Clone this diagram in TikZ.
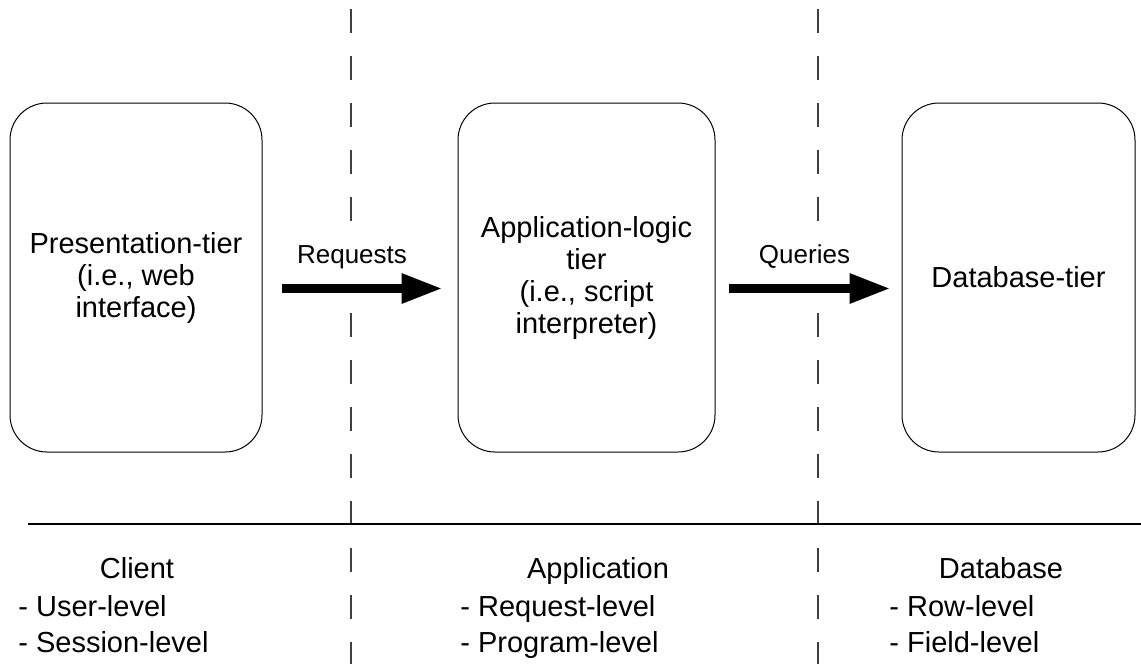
\documentclass[tikz,border=0pt]{standalone}
\usepackage{fontspec}
\setmainfont{Liberation Sans}
\usetikzlibrary{arrows.meta}

\begin{document}
\begin{tikzpicture}[x=0.5pt, y=-0.5pt,
    tier/.style={draw, line width=0.5pt, rounded corners=18.5pt, minimum height=174.5pt, align=center, font=\fontsize{14.5}{16}\selectfont},
    flow/.style={line width=4.5pt, -{Triangle[length=20.5pt, width=14pt]}},
    flowlabel/.style={anchor=base, font=\fontsize{13}{15}\selectfont},
    split/.style={dash pattern=on 12pt off 11.5pt, line width=0.6pt, black!75},
    level/.style={anchor=base west, inner sep=0pt, font=\fontsize{14.5}{17}\selectfont}]
    \useasboundingbox (0,0) rectangle (1141,664);
    % tiers
    \node[tier, minimum width=126pt] (pres) at (136,277.5) {Presentation-tier\\(i.e., web\\interface)};
    \node[tier, minimum width=128.5pt] (app) at (586.5,277.5) {Application-logic\\tier\\(i.e., script\\interpreter)};
    \node[tier, minimum width=116.5pt] (db) at (1018.5,277.5) {Database-tier};
    \draw[flow, shorten <=9.5pt, shorten >=7.5pt] ([yshift=-5.5pt]pres.east) -- ([yshift=-5.5pt]app.west);
    \draw[flow, shorten <=6.5pt, shorten >=5.5pt] ([yshift=-5.5pt]app.east) -- ([yshift=-5.5pt]db.west);
    \node[flowlabel] (requests) at (352,263) {Requests};
    \node[flowlabel] (queries) at (804.5,263) {Queries};
    % boundaries
    \foreach \x in {351,818} {
        \draw[split] (\x,9) -- (\x,221);
        \draw[split] (\x,313) -- (\x,664);
    }
    \draw[line width=0.6pt] (28,524) -- (1141,524);
    % levels
    \foreach \hx/\lx/\head/\one/\two in {137/18/Client/User/Session, 598/460/Application/Request/Program, 1001/889/Database/Row/Field} {
        \node[level, anchor=base] (\head) at (\hx,578) {\head};
        \node[level] (\head-\one) at (\lx,616) {- \one-level};
        \node[level] (\head-\two) at (\lx,652) {- \two-level};
    }
\end{tikzpicture}
\end{document}
